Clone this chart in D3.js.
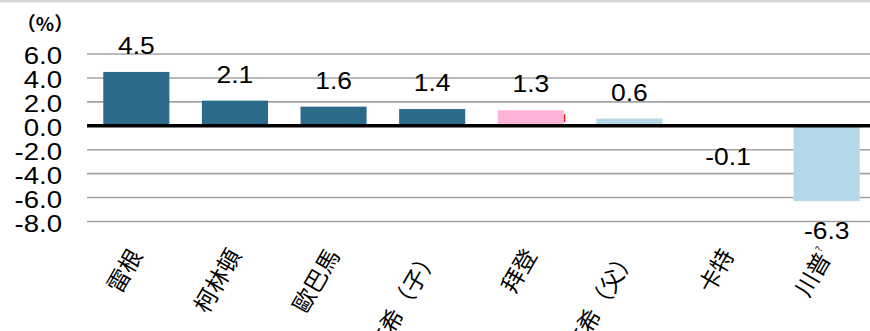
<!DOCTYPE html>
<html><head><meta charset="utf-8">
<script src="https://cdn.jsdelivr.net/npm/d3@7"></script>
<style>body{margin:0;background:#fff;}svg{display:block;}</style>
</head><body>
<svg id="c" width="870" height="331"></svg>
<script>
const categories = ["雷根","柯林頓","歐巴馬","布希（子）","拜登","布希（父）","卡特","川普"];
const superscripts = ["","","","","","","","?"];
const values = [4.5, 2.1, 1.6, 1.4, 1.3, 0.6, -0.1, -6.3];
const colors = ["#2b6a88","#2b6a88","#2b6a88","#2b6a88","#ffb3d9","#b5d8e8","#b5d8e8","#b5d8e8"];
const yTicks = [6, 4, 2, 0, -2, -4, -6, -8];
const unitLabel = "（%）";

const svg = d3.select("#c");
const W = 870;
const x = d3.scaleBand().domain(categories).range([87, 876]).paddingInner(0.33).paddingOuter(0.165);
const y = d3.scaleLinear().domain([-8, 6]).range([221.5, 54]);

// top band
svg.append("rect").attr("x",0).attr("y",0).attr("width",W).attr("height",2.5).attr("fill","#d6d6d6");

// gridlines
svg.append("g").selectAll("line").data(yTicks.filter(d=>d!==0)).join("line")
  .attr("x1",87).attr("x2",W).attr("y1",d=>y(d)).attr("y2",d=>y(d))
  .attr("stroke","#a3a3a3").attr("stroke-width",1.6);

// y labels
svg.append("g").selectAll("text").data(yTicks).join("text")
  .attr("transform",d=>`translate(62,${y(d)+2}) scale(1.2,1)`).attr("dy","0.36em")
  .attr("text-anchor","end").attr("font-family","Liberation Sans, Arial, sans-serif")
  .attr("font-size",23).attr("fill","#000").text(d=>d.toFixed(1));

svg.append("text").attr("x",45).attr("y",31).attr("text-anchor","middle")
  .attr("font-family","Noto Sans CJK TC, sans-serif").attr("font-size",19).attr("font-weight","bold")
  .text(unitLabel);

// bars
const data = categories.map((c,i)=>({c, v:values[i], col:colors[i]}));
svg.append("g").selectAll("rect").data(data).join("rect")
  .attr("x",d=>x(d.c)).attr("width",x.bandwidth())
  .attr("y",d=>y(Math.max(0,d.v))).attr("height",d=>Math.abs(y(d.v)-y(0)))
  .attr("fill",d=>d.col);

// small red edge on the pink bar
const pink = data[4];
svg.append("rect").attr("x",x(pink.c)+x.bandwidth()).attr("width",1.5)
  .attr("y",y(pink.v)+4).attr("height",8).attr("fill","#e8202a");

// zero line
svg.append("line").attr("x1",87).attr("x2",W).attr("y1",y(0)).attr("y2",y(0))
  .attr("stroke","#000").attr("stroke-width",3.5);

// value labels
svg.append("g").selectAll("text").data(data).join("text")
  .attr("transform",d=>`translate(${x(d.c)+x.bandwidth()/2},${d.v>=0 ? y(d.v)-18 : y(d.v)+38}) scale(1.15,1)`)
  .attr("text-anchor","middle").attr("font-family","Liberation Sans, Arial, sans-serif")
  .attr("font-size",23).attr("fill","#000").text(d=>d.v.toFixed(1));

// x labels
const xl = svg.append("g").selectAll("text").data(categories).join("text")
  .attr("transform",d=>`translate(${x(d)+x.bandwidth()/2},${251}) rotate(-60)`)
  .attr("text-anchor","end").attr("dy","0.35em")
  .attr("font-family","Noto Sans CJK TC, sans-serif").attr("font-size",23).attr("fill","#000");
xl.append("tspan").text(d=>d);
xl.append("tspan").attr("font-size",9).attr("dy","-1.4em").text((d,i)=>superscripts[i]);
</script>
</body></html>
